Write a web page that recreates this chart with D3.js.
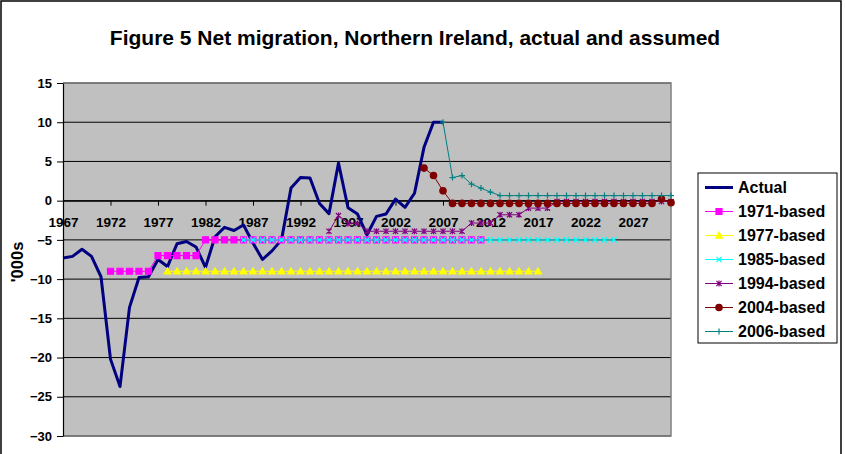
<!DOCTYPE html>
<html>
<head>
<meta charset="utf-8">
<script src="https://cdn.jsdelivr.net/npm/d3@7"></script>
<style>
  body { margin: 0; background: #fff; }
  text { font-family: Arial, "Liberation Sans", sans-serif; font-weight: bold; }
</style>
</head>
<body>
<div id="chart"></div>
<script>
// Years on the category axis
var years = d3.range(1967, 2032);
var tickYears = d3.range(1967, 2032, 5);
var yTicks = [-30, -25, -20, -15, -10, -5, 0, 5, 10, 15];

// Actual net migration ('000s), 1967-2007
var actualStart = 1967;
var actual = [-7.3, -7.1, -6.2, -7.1, -9.7, -20.2, -23.7, -13.6, -9.8, -9.7,
              -7.5, -8.4, -5.5, -5.2, -5.9, -8.5, -4.6, -3.4, -3.8, -3.1,
              -5.4, -7.5, -6.4, -5.0, 1.6, 2.95, 2.9, -0.35, -1.65, 4.8,
              -0.9, -1.7, -4.35, -2.0, -1.7, 0.2, -0.85, 0.95, 6.8, 10.0, 10.0];

// Projection assumptions
var b1971Start = 1972;
var b1971 = [-9, -9, -9, -9, -9, -7, -7, -7, -7, -7,
             -5, -5, -5, -5, -5, -5, -5, -5, -5, -5,
             -5, -5, -5, -5, -5, -5, -5, -5, -5, -5,
             -5, -5, -5, -5, -5, -5, -5, -5, -5, -5];
var b1977Start = 1978;
var b1977 = [-9, -9, -9, -9, -9, -9, -9, -9, -9, -9,
             -9, -9, -9, -9, -9, -9, -9, -9, -9, -9,
             -9, -9, -9, -9, -9, -9, -9, -9, -9, -9,
             -9, -9, -9, -9, -9, -9, -9, -9, -9, -9];
var b1985Start = 1986;
var b1985 = [-5, -5, -5, -5, -5, -5, -5, -5, -5, -5,
             -5, -5, -5, -5, -5, -5, -5, -5, -5, -5,
             -5, -5, -5, -5, -5, -5, -5, -5, -5, -5,
             -5, -5, -5, -5, -5, -5, -5, -5, -5, -5];
var b1994Start = 1995;
var b1994 = [-3.9, -1.9, -2.9, -2.9, -3.9, -3.9, -3.9, -3.9, -3.9, -3.9,
             -3.9, -3.9, -3.9, -3.9, -3.9, -2.85, -2.85, -2.85, -1.8, -1.8,
             -1.8, -0.95, -0.95, -0.95, -0.1, -0.1, -0.1, -0.1, -0.1, -0.1,
             -0.1, -0.1, -0.1, -0.1, -0.1, -0.1, -0.1];
var b2004Start = 2005;
var b2004 = [4.15, 3.2, 1.25, -0.35, -0.35, -0.35, -0.35, -0.35, -0.35, -0.35,
             -0.35, -0.35, -0.35, -0.35, -0.35, -0.35, -0.35, -0.35, -0.35, -0.35,
             -0.35, -0.35, -0.35, -0.35, -0.35, 0.2, -0.25];
var b2006Start = 2007;
var b2006 = [10.0, 2.95, 3.2, 2.1, 1.6, 1.1, 0.65, 0.65, 0.65, 0.65,
             0.65, 0.65, 0.65, 0.65, 0.65, 0.65, 0.65, 0.65, 0.65, 0.65,
             0.65, 0.65, 0.65, 0.65, 0.65];

var svgWidth = 845;
var svgHeight = 454;

var plot = { left: 63, right: 671, top: 83, bottom: 436 };

var svg = d3.select("#chart")
            .append("svg")
            .attr("width", svgWidth)
            .attr("height", svgHeight);

// outer chart border
svg.append("rect")
   .attr("x", 1).attr("y", 1)
   .attr("width", 840).attr("height", 470)
   .attr("fill", "#fff")
   .attr("stroke", "#000")
   .attr("stroke-width", 1.5);

var x = d3.scalePoint()
    .domain(years)
    .range([plot.left, plot.right]);

var y = d3.scaleLinear()
    .domain([-30, 15])
    .range([plot.bottom, plot.top]);

// plot area
svg.append("rect")
   .attr("x", plot.left).attr("y", plot.top)
   .attr("width", plot.right - plot.left)
   .attr("height", plot.bottom - plot.top)
   .attr("fill", "#c0c0c0");

// gridlines
svg.append("g")
   .selectAll("line")
   .data(yTicks)
   .enter()
   .append("line")
   .attr("x1", plot.left).attr("x2", plot.right)
   .attr("y1", d => y(d)).attr("y2", d => y(d))
   .attr("stroke", "#000")
   .attr("stroke-width", 1);

// plot area border (right/bottom/top)
svg.append("path")
   .attr("d", `M${plot.left},${plot.top}H${plot.right}V${plot.bottom}H${plot.left}`)
   .attr("fill", "none")
   .attr("stroke", "#808080")
   .attr("stroke-width", 1.5);

// y axis
var leftAxis = d3.axisLeft(y).tickValues(yTicks).tickSize(6).tickPadding(5).tickSizeOuter(0);
var yAxisG = svg.append("g")
   .attr("transform", `translate(${plot.left},0)`)
   .call(leftAxis);
yAxisG.select(".domain").attr("stroke", "#000").attr("stroke-width", 1.2);
yAxisG.selectAll("text").style("font-size", "13px").attr("fill", "#000").style("font-family", "Arial, 'Liberation Sans', sans-serif");

// x axis crossing at zero
var bottomAxis = d3.axisBottom(x).tickValues(tickYears).tickSize(5).tickPadding(12).tickSizeOuter(0);
var xAxisG = svg.append("g")
   .attr("transform", `translate(0,${y(0)})`)
   .call(bottomAxis);
xAxisG.select(".domain").attr("stroke", "#000").attr("stroke-width", 1.2);
xAxisG.selectAll("text").style("font-size", "13.5px").attr("fill", "#000").style("font-family", "Arial, 'Liberation Sans', sans-serif");

// marker shapes
var markers = {
    square: "M-3,-3H3V3H-3Z",
    triangle: "M0,-3.4L3.4,2.7H-3.4Z",
    cross: "M-2.6,-2.6L2.6,2.6M-2.6,2.6L2.6,-2.6",
    star: "M-2.6,-2.6L2.6,2.6M-2.6,2.6L2.6,-2.6M0,-3L0,3",
    circle: "M3.2,0A3.2,3.2 0 1,1 -3.2,0A3.2,3.2 0 1,1 3.2,0Z",
    plus: "M-3,0H3M0,-3V3"
};

var series = [
    { name: "Actual", start: actualStart, values: actual, color: "#000080", width: 3, marker: null },
    { name: "1971-based", start: b1971Start, values: b1971, color: "#ff00ff", width: 1, marker: "square" },
    { name: "1977-based", start: b1977Start, values: b1977, color: "#ffff00", width: 1, marker: "triangle" },
    { name: "1985-based", start: b1985Start, values: b1985, color: "#00ffff", width: 1, marker: "cross" },
    { name: "1994-based", start: b1994Start, values: b1994, color: "#800080", width: 1, marker: "star" },
    { name: "2004-based", start: b2004Start, values: b2004, color: "#800000", width: 1, marker: "circle" },
    { name: "2006-based", start: b2006Start, values: b2006, color: "#008080", width: 1, marker: "plus" }
];

var line = d3.line()
    .x(d => x(d.year))
    .y(d => y(d.value));

series.forEach(function(s) {
    var pts = s.values.map((v, i) => ({ year: s.start + i, value: v }))
                      .filter(d => d.year <= 2031);
    var g = svg.append("g");
    g.append("path")
     .datum(pts)
     .attr("d", line)
     .attr("fill", "none")
     .attr("stroke", s.color)
     .attr("stroke-width", s.width)
     .attr("stroke-linejoin", "round");
    if (s.marker) {
        var filled = s.marker === "square" || s.marker === "triangle" || s.marker === "circle";
        g.selectAll("path.m")
         .data(pts)
         .enter()
         .append("path")
         .attr("class", "m")
         .attr("transform", d => `translate(${x(d.year)},${y(d.value)})`)
         .attr("d", markers[s.marker])
         .attr("fill", filled ? s.color : "none")
         .attr("stroke", s.color)
         .attr("stroke-width", 1.2);
    }
});

// title
svg.append("text")
   .attr("x", 415)
   .attr("y", 45)
   .attr("text-anchor", "middle")
   .style("font-size", "21px")
   .text("Figure 5 Net migration, Northern Ireland, actual and assumed");

// y axis title
svg.append("text")
   .attr("transform", "translate(23,262) rotate(-90)")
   .attr("text-anchor", "middle")
   .style("font-size", "16.5px")
   .text("'000s");

// legend
var legend = svg.append("g");
legend.append("rect")
   .attr("x", 698).attr("y", 173)
   .attr("width", 139).attr("height", 170)
   .attr("fill", "#fff")
   .attr("stroke", "#000")
   .attr("stroke-width", 1);

var legendItems = legend.selectAll("g.item")
   .data(series)
   .enter()
   .append("g")
   .attr("class", "item")
   .attr("transform", (d, i) => `translate(705,${187.5 + i * 24})`);

legendItems.append("line")
   .attr("x1", 0).attr("x2", 28)
   .attr("y1", 0).attr("y2", 0)
   .attr("stroke", d => d.color)
   .attr("stroke-width", d => d.width);

legendItems.filter(d => d.marker)
   .append("path")
   .attr("transform", "translate(14,0)")
   .attr("d", d => markers[d.marker])
   .attr("fill", d => (d.marker === "square" || d.marker === "triangle" || d.marker === "circle") ? d.color : "none")
   .attr("stroke", d => d.color)
   .attr("stroke-width", 1.2);

legendItems.append("text")
   .attr("x", 33)
   .attr("y", 5.5)
   .style("font-size", "16px")
   .text(d => d.name);
</script>
</body>
</html>
